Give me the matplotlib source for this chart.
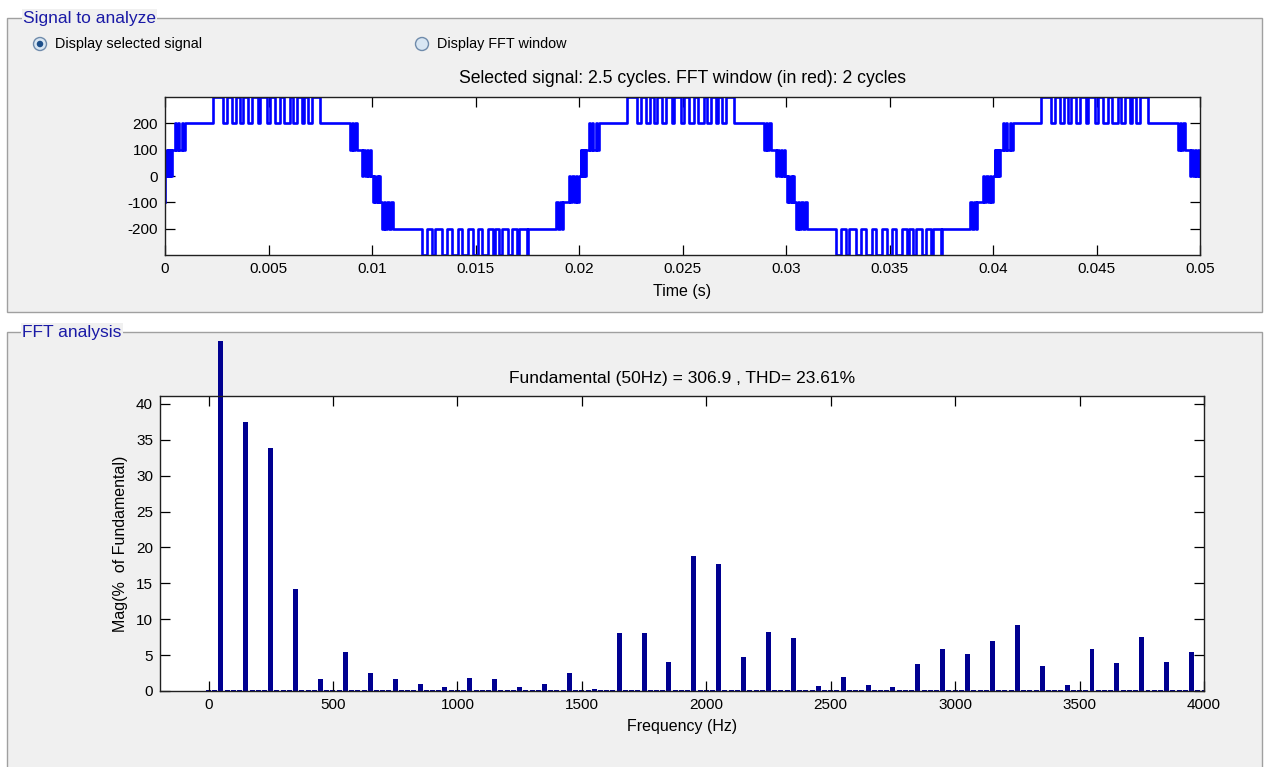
import numpy as np
import matplotlib
matplotlib.use("Agg")
from matplotlib import pyplot as plt
from matplotlib.patches import Rectangle, Ellipse

plt.rcParams['font.family'] = ['Liberation Sans', 'DejaVu Sans']
plt.rcParams['axes.unicode_minus'] = False

W, H = 1266, 767

# ---- selected signal: one 20 ms period as (time in ms, level from that time on)
edge_t_ms = [
    0.00, 0.02,
    # 0 -> 100 band
    0.08, 0.12, 0.16, 0.21, 0.25, 0.30, 0.34,
    # 100 -> 200 band
    0.48, 0.54, 0.62, 0.70, 0.80, 0.86, 0.96,
    # 200 / 300 pulses
    2.34, 2.82, 2.98, 3.22, 3.43, 3.62, 3.78, 4.03, 4.19, 4.51, 4.59, 4.94,
    5.07, 5.31, 5.56, 5.75, 6.04, 6.20, 6.36, 6.60, 6.71, 6.92, 7.09, 7.49,
    # 200 -> 100 band
    8.94, 9.04, 9.10, 9.20, 9.26,
    # 100 -> 0 band
    9.50, 9.58, 9.64, 9.74, 9.80, 9.90, 9.95,
    # 0 -> -100 band
    10.05, 10.10, 10.16, 10.22, 10.28, 10.33, 10.38,
    # -100 -> -200 band
    10.50, 10.58, 10.64, 10.74, 10.82, 10.90, 11.00,
    # -200 / -300 pulses
    12.40, 12.64, 12.88, 13.04, 13.36, 13.61, 13.85, 14.14, 14.33, 14.65, 14.89, 15.14,
    15.30, 15.62, 15.83, 15.94, 16.15, 16.26, 16.58, 16.75, 16.99, 17.12, 17.47, 17.55,
    # -200 -> -100 band
    18.90, 19.00, 19.06, 19.16, 19.22,
    # -100 -> 0 band
    19.50, 19.58, 19.66, 19.76, 19.84, 19.92, 19.98,
]
edge_level = [
    -100, 0,
    100, 0, 100, 0, 100, 0, 100,
    200, 100, 200, 100, 200, 100, 200,
    300, 200, 300, 200, 300, 200, 300, 200, 300, 200, 300, 200,
    300, 200, 300, 200, 300, 200, 300, 200, 300, 200, 300, 200,
    100, 200, 100, 200, 100,
    0, 100, 0, 100, 0, 100, 0,
    -100, 0, -100, 0, -100, 0, -100,
    -200, -100, -200, -100, -200, -100, -200,
    -300, -200, -300, -200, -300, -200, -300, -200, -300, -200, -300, -200,
    -300, -200, -300, -200, -300, -200, -300, -200, -300, -200, -300, -200,
    -100, -200, -100, -200, -100,
    0, -100, 0, -100, 0, -100, 0,
]
period_ms = 20.0
n_cycles = 2.5
time_ticks = [0, 0.005, 0.01, 0.015, 0.02, 0.025, 0.03, 0.035, 0.04, 0.045, 0.05]
time_labels = ['0', '0.005', '0.01', '0.015', '0.02', '0.025', '0.03', '0.035', '0.04', '0.045', '0.05']
volt_ticks = [-200, -100, 0, 100, 200]

# ---- FFT: harmonic magnitudes (% of fundamental) at odd multiples of 50 Hz
harm_freq = [50, 150, 250, 350, 450, 550, 650, 750, 850, 950,
             1050, 1150, 1250, 1350, 1450, 1550, 1650, 1750, 1850, 1950,
             2050, 2150, 2250, 2350, 2450, 2550, 2650, 2750, 2850, 2950,
             3050, 3150, 3250, 3350, 3450, 3550, 3650, 3750, 3850, 3950]
harm_mag = [100, 37.45, 33.82, 14.22, 1.67, 5.48, 2.55, 1.67, 1.02, 0.5,
            1.86, 1.65, 0.6, 0.98, 2.55, 0.3, 8.04, 8.04, 4.09, 18.86,
            17.70, 4.79, 8.22, 7.34, 0.65, 2.02, 0.8, 0.62, 3.74, 5.81,
            5.11, 7.01, 9.24, 3.55, 0.8, 5.81, 3.90, 7.53, 4.09, 5.46]
bin_step = 25        # 2-cycle window -> 25 Hz bins
floor_mag = 0.2      # level of the remaining bins
freq_ticks = [0, 500, 1000, 1500, 2000, 2500, 3000, 3500, 4000]
mag_ticks = [0, 5, 10, 15, 20, 25, 30, 35, 40]


def fx(x):
    return x / W


def fy(y):
    return 1 - y / H


fig = plt.figure(figsize=(W / 100, H / 100), dpi=100, facecolor='white')

# group boxes
panel = '#f0f0f0'
for (x0, y0, x1, y1) in [(7, 18, 1262, 312), (7, 332, 1262, 780)]:
    fig.patches.append(Rectangle((fx(x0), fy(y1)), fx(x1 - x0), (y1 - y0) / H,
                                 transform=fig.transFigure, facecolor=panel,
                                 edgecolor='#a0a0a0', linewidth=1.0, zorder=0))
box_blue = '#1a1aa6'
fig.text(fx(23), fy(18), 'Signal to analyze', color=box_blue, fontsize=12.5,
         va='center', ha='left',
         bbox=dict(facecolor=panel, edgecolor='none', pad=1.0))
fig.text(fx(22), fy(332), 'FFT analysis', color=box_blue, fontsize=12.5,
         va='center', ha='left',
         bbox=dict(facecolor=panel, edgecolor='none', pad=1.0))

# radio buttons
for cx, label, sel in [(40, 'Display selected signal', True), (422, 'Display FFT window', False)]:
    fig.patches.append(Ellipse((fx(cx), fy(44)), 13 / W, 13 / H, transform=fig.transFigure,
                               facecolor='#d8e6f3', edgecolor='#6f8bab', linewidth=1.0, zorder=3))
    if sel:
        fig.patches.append(Ellipse((fx(cx), fy(44)), 6.5 / W, 6.5 / H, transform=fig.transFigure,
                                   facecolor='#1d4f8a', edgecolor='none', zorder=4))
    fig.text(fx(cx + 15), fy(44), label, fontsize=10.4, va='center', ha='left')

# ---- top axes: signal
ax1 = fig.add_axes([fx(165), fy(255), fx(1200 - 165), (255 - 97) / H], zorder=5)
t_one = np.array(edge_t_ms)
lv_one = np.array(edge_level)
t_all, lv_all = [], []
for k in range(int(np.ceil(n_cycles))):
    t_all.append(t_one + k * period_ms)
    lv_all.append(lv_one)
t_all = np.concatenate(t_all)
lv_all = np.concatenate(lv_all)
keep = t_all <= n_cycles * period_ms
t_all = np.append(t_all[keep], n_cycles * period_ms)
lv_all = np.append(lv_all[keep], lv_all[keep][-1])
ax1.plot(t_all / 1000.0, lv_all, drawstyle='steps-post', color='#0000ff', linewidth=1.9)
ax1.set_xlim(0, 0.05)
ax1.set_ylim(-300, 300)
ax1.set_xticks(time_ticks)
ax1.set_xticklabels(time_labels)
ax1.set_yticks(volt_ticks)
ax1.set_xlabel('Time (s)', fontsize=11.5, labelpad=6)
ax1.set_title('Selected signal: 2.5 cycles. FFT window (in red): 2 cycles', fontsize=12.7, pad=10)

# ---- bottom axes: FFT bars
ax2 = fig.add_axes([fx(160), fy(691), fx(1204 - 160), (691 - 396) / H], zorder=5)
all_freq = np.arange(0, 4000 + bin_step, bin_step)
floor_freq = [f for f in all_freq if f not in harm_freq]
ax2.bar(floor_freq, [floor_mag] * len(floor_freq), width=20, color='#000090', linewidth=0)
bars = ax2.bar(harm_freq, harm_mag, width=20, color='#000090', linewidth=0)
clip = Rectangle((0, 0), 1, fy(341), transform=fig.transFigure, visible=False)
bars[0].set_clip_path(clip)
ax2.set_xlim(-195, 4000)
ax2.set_ylim(0, 41.1)
ax2.set_xticks(freq_ticks)
ax2.set_yticks(mag_ticks)
ax2.set_xlabel('Frequency (Hz)', fontsize=11.5, labelpad=5)
ax2.set_ylabel('Mag(%  of Fundamental)', fontsize=11.5, labelpad=6)
ax2.set_title('Fundamental (50Hz) = 306.9 , THD= 23.61%', fontsize=12.5, pad=9)

for ax in (ax1, ax2):
    ax.set_facecolor('white')
    ax.tick_params(direction='in', length=7, width=0.9, top=True, right=True,
                   labelsize=11, colors='black', pad=5)
    for s in ax.spines.values():
        s.set_linewidth(1.0)
        s.set_color('#202020')

fig.savefig('out.png', dpi=100, facecolor=fig.get_facecolor())
